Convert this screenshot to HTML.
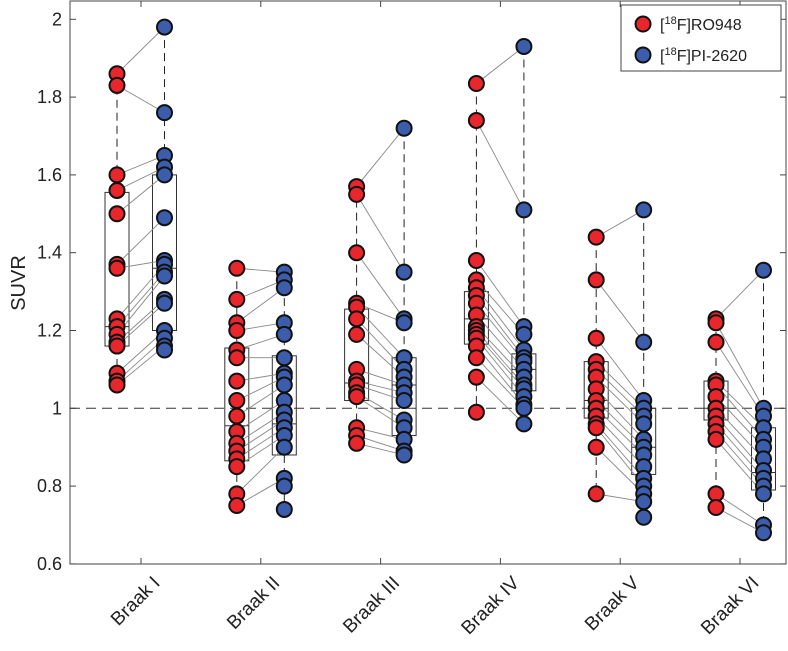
<!DOCTYPE html>
<html><head><meta charset="utf-8"><style>
body{margin:0;background:#fff}
svg{display:block;font-family:"Liberation Sans",sans-serif}
</style></head><body>
<svg id="c" width="788" height="651"></svg>
<script>
const categories=["Braak I","Braak II","Braak III","Braak IV","Braak V","Braak VI"];
const roValues=[
[1.86,1.83,1.60,1.56,1.50,1.37,1.36,1.23,1.21,1.19,1.17,1.16,1.09,1.07,1.06],
[1.36,1.28,1.22,1.20,1.15,1.13,1.07,1.02,0.98,0.94,0.91,0.89,0.87,0.85,0.78,0.75],
[1.57,1.55,1.40,1.27,1.26,1.23,1.19,1.10,1.07,1.06,1.04,1.03,0.95,0.93,0.91],
[1.835,1.74,1.38,1.33,1.31,1.29,1.27,1.24,1.21,1.20,1.19,1.18,1.16,1.13,1.08,0.99],
[1.44,1.33,1.18,1.12,1.10,1.08,1.05,1.02,1.00,0.98,0.96,0.95,0.90,0.78],
[1.23,1.22,1.17,1.07,1.06,1.03,1.00,0.98,0.96,0.94,0.92,0.78,0.745]];
const piValues=[
[1.98,1.76,1.65,1.62,1.60,1.49,1.38,1.37,1.35,1.34,1.28,1.27,1.20,1.18,1.16,1.15],
[1.35,1.33,1.31,1.22,1.19,1.13,1.09,1.08,1.06,1.02,0.99,0.97,0.95,0.93,0.90,0.82,0.80,0.74],
[1.72,1.35,1.23,1.22,1.13,1.10,1.08,1.06,1.04,1.02,0.97,0.95,0.92,0.89,0.88],
[1.93,1.51,1.21,1.19,1.15,1.13,1.12,1.10,1.08,1.06,1.05,1.03,1.01,1.00,0.96],
[1.51,1.17,1.02,1.00,0.98,0.96,0.92,0.90,0.88,0.85,0.82,0.80,0.78,0.76,0.72],
[1.355,1.00,0.98,0.95,0.92,0.90,0.87,0.84,0.82,0.80,0.78,0.70,0.68]];
const roBox=[[1.16,1.21,1.555],[0.865,0.955,1.155],[1.02,1.065,1.255],[1.165,1.23,1.30],[0.975,1.02,1.12],[0.97,1.00,1.07]];
const piBox=[[1.20,1.36,1.60],[0.88,0.96,1.135],[0.93,1.06,1.13],[1.045,1.10,1.14],[0.83,0.90,1.00],[0.79,0.835,0.95]];
const yTicks=[0.6,0.8,1,1.2,1.4,1.6,1.8,2];
const yTickLabels=["0.6","0.8","1","1.2","1.4","1.6","1.8","2"];

const svg=document.getElementById('c');const NS="http://www.w3.org/2000/svg";
function el(t,a,p){const e=document.createElementNS(NS,t);for(const k in a)e.setAttribute(k,a[k]);(p||svg).appendChild(e);return e;}
const L=70,R=786,T=1,B=564;
const y=v=>408.3-(v-1)*389;
const x=i=>141+i*119.8;
const RED="#e8262b",BLUE="#3b5dab";
let f=el('rect',{x:L,y:T,width:R-L,height:B-T,fill:'none',stroke:'#444','stroke-width':1});

yTicks.forEach((v,i)=>{
 el('line',{x1:L,x2:L+6,y1:y(v),y2:y(v),stroke:'#444'});
 el('line',{x1:R-6,x2:R,y1:y(v),y2:y(v),stroke:'#444'});
 const t=el('text',{x:L-8,y:y(v)+6,'text-anchor':'end','font-size':18,fill:'#222'});
 t.textContent=yTickLabels[i];
 
});
let yt=el('text',{x:0,y:0,transform:'translate(25,283) rotate(-90)','text-anchor':'middle','font-size':20,fill:'#222'});
yt.textContent='SUVR';
let rl=el('line',{x1:L,x2:R,y1:y(1),y2:y(1),stroke:'#333','stroke-dasharray':'10,6','stroke-width':1});

categories.forEach((c,i)=>{
 const cx=x(i);
 el('line',{x1:cx,x2:cx,y1:B,y2:B-6,stroke:'#444'});
 el('line',{x1:cx,x2:cx,y1:T,y2:T+6,stroke:'#444'});
 const t=el('text',{x:0,y:0,transform:`translate(${cx+20},${B+20}) rotate(-45)`,'text-anchor':'end','font-size':19,fill:'#222'});
 t.textContent=c;
 const rx=cx-24,bx=cx+23.5;
 [[rx,roValues[i],roBox[i]],[bx,piValues[i],piBox[i]]].forEach(([px,vals,bb])=>{
  const mx=Math.max(...vals),mn=Math.min(...vals);
  el('line',{x1:px,x2:px,y1:y(mx),y2:y(bb[2]),stroke:'#222','stroke-dasharray':'8,5'});
  el('line',{x1:px,x2:px,y1:y(bb[0]),y2:y(mn),stroke:'#222','stroke-dasharray':'8,5'});
  const b=el('rect',{x:px-12,y:y(bb[2]),width:24,height:y(bb[0])-y(bb[2]),fill:'none',stroke:'#333'});
  
  el('line',{x1:px-12,x2:px+12,y1:y(bb[1]),y2:y(bb[1]),stroke:'#333'});
 });
 const n=Math.min(roValues[i].length,piValues[i].length);
 for(let k=0;k<n;k++){
  const l=el('line',{x1:rx,x2:bx,y1:y(roValues[i][k]),y2:y(piValues[i][k]),stroke:'#888','stroke-width':0.9});
  
 }
 roValues[i].forEach(v=>{const p=el('circle',{cx:rx,cy:y(v),r:7.5,fill:RED,stroke:'#111','stroke-width':2});
  });
 piValues[i].forEach(v=>{const p=el('circle',{cx:bx,cy:y(v),r:7.5,fill:BLUE,stroke:'#111','stroke-width':2});
  });
});
const lg=el('g',{});
el('rect',{x:621,y:5,width:160,height:66,fill:'#fff',stroke:'#444'},lg);
[[RED,'RO948',24],[BLUE,'PI-2620',55]].forEach(([col,name,yy])=>{
 const g=el('g',{},lg);
 el('circle',{cx:643,cy:yy,r:7.5,fill:col,stroke:'#111','stroke-width':2},g);
 const t=el('text',{x:660,y:yy+6,'font-size':16,fill:'#222'},g);
 t.innerHTML='[<tspan dy="-6" font-size="11">18</tspan><tspan dy="6">F]'+name+'</tspan>';
});
</script>
</body></html>
